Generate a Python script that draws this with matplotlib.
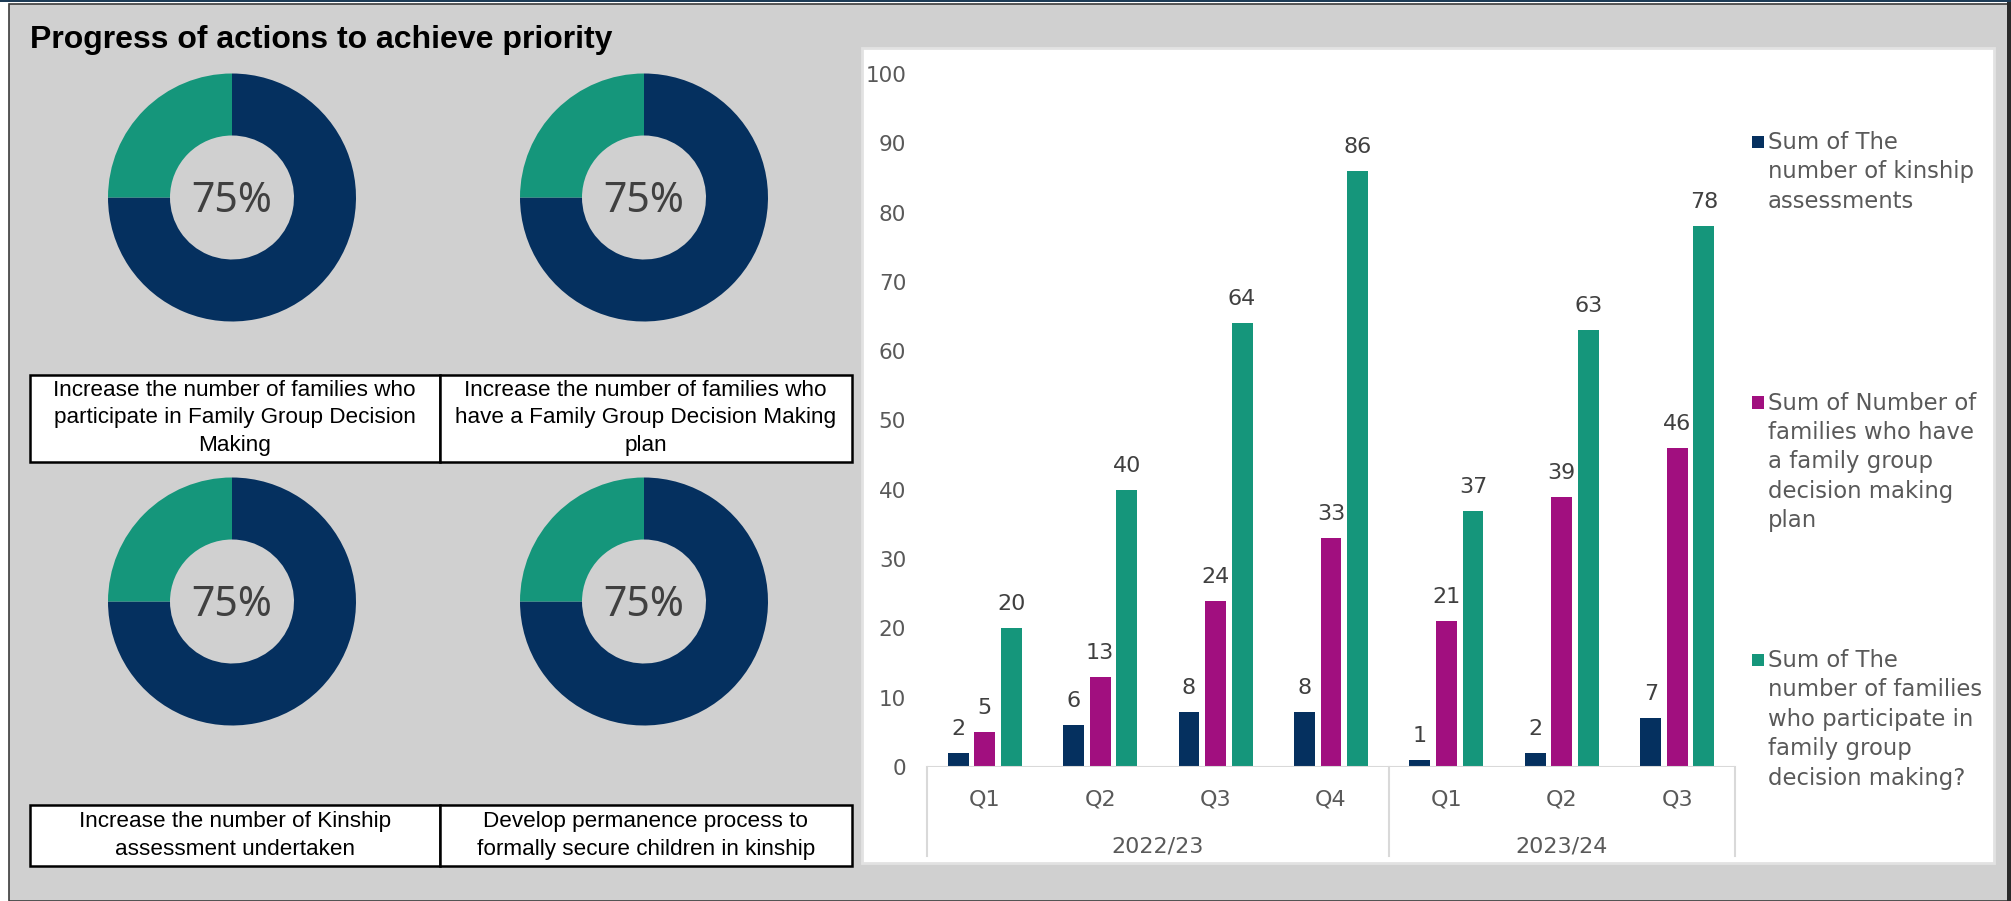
import matplotlib
matplotlib.use("Agg")
import matplotlib.pyplot as plt
from matplotlib.patches import Rectangle
import numpy as np

W, H = 2011, 901

NAVY = "#05305f"
MAGENTA = "#a10f7f"
TEAL = "#15967b"
PANEL_GREY = "#d0d0d0"
TEXT_GREY = "#595959"

# progress donuts
progress = [75, 75, 75, 75]
actions = [
    "Increase the number of families who\nparticipate in Family Group Decision\nMaking",
    "Increase the number of families who\nhave a Family Group Decision Making\nplan",
    "Increase the number of Kinship\nassessment undertaken",
    "Develop permanence process to\nformally secure children in kinship",
]

# quarterly counts
quarters = ["Q1", "Q2", "Q3", "Q4", "Q1", "Q2", "Q3"]
years = ["2022/23", "2023/24"]
year_sizes = [4, 3]
kinship = [2, 6, 8, 8, 1, 2, 7]
fgdm_plan = [5, 13, 24, 33, 21, 39, 46]
fgdm_participate = [20, 40, 64, 86, 37, 63, 78]
series_names = [
    "Sum of The\nnumber of kinship\nassessments",
    "Sum of Number of\nfamilies who have\na family group\ndecision making\nplan",
    "Sum of The\nnumber of families\nwho participate in\nfamily group\ndecision making?",
]

NARROW = ["Liberation Sans Narrow", "Liberation Sans", "DejaVu Sans"]


def fx(px):
    return px / W


def fy(py):
    return 1 - py / H


fig = plt.figure(figsize=(W / 100, H / 100), dpi=100, facecolor="white")

# dashboard background and frame
fig.patches.append(Rectangle((fx(9), 0), fx(2008) - fx(9), fy(4), transform=fig.transFigure,
                             facecolor=PANEL_GREY, edgecolor="#3c3c3c", lw=1.2, zorder=0))
fig.patches.append(Rectangle((fx(2007), 0), fx(4), 1, transform=fig.transFigure,
                             facecolor="#2a2a2a", edgecolor="none", zorder=0))
fig.patches.append(Rectangle((0, fy(2)), 1, fy(0) - fy(2), transform=fig.transFigure,
                             facecolor="#1d3b56", edgecolor="none", zorder=0))

fig.text(fx(30), fy(48), "Progress of actions to achieve priority", fontsize=23,
         fontweight="bold", family=NARROW, color="black", va="baseline", ha="left")

# donuts
centres = [(232, 197.5), (644, 197.5), (232, 601.5), (644, 601.5)]
R = 124
for (cx, cy), pct in zip(centres, progress):
    ax = fig.add_axes([fx(cx - R), fy(cy + R), fx(2 * R), (2 * R) / H])
    ax.set_zorder(3)
    ax.pie([pct, 100 - pct], colors=[NAVY, TEAL], startangle=90, counterclock=False,
           radius=1, wedgeprops=dict(width=0.5, edgecolor="none"))
    ax.set_xlim(-1, 1)
    ax.set_ylim(-1, 1)
    ax.set_aspect("equal")
    ax.axis("off")
    ax.text(0, -0.03, f"{pct}%", ha="center", va="center", fontsize=29.5,
            family=["Noto Sans", "DejaVu Sans"], color="#404040")

# action description boxes
rows = [(374.5, 461.5), (805, 866)]
cols = [(29.5, 440), (440, 851.5)]
i = 0
for top, bot in rows:
    for left, right in cols:
        fig.patches.append(Rectangle((fx(left), fy(bot)), fx(right - left), (bot - top) / H,
                                     transform=fig.transFigure, facecolor="white",
                                     edgecolor="black", lw=1.8, zorder=1))
        fig.text(fx((left + right) / 2), fy((top + bot) / 2), actions[i], ha="center",
                 va="center", fontsize=16.2, family=NARROW, color="black",
                 linespacing=1.38, zorder=2)
        i += 1

# bar chart panel
fig.patches.append(Rectangle((fx(862), fy(863)), fx(1994 - 862), (863 - 48) / H,
                             transform=fig.transFigure, facecolor="white",
                             edgecolor="#e2e2e2", lw=2, zorder=0.5))

y0, y100 = 767, 74
ax = fig.add_axes([fx(927), fy(y0), fx(1735 - 927), (y0 - y100) / H])
ax.set_zorder(3)
ax.set_facecolor("none")
x = np.arange(len(quarters))
bw = 0.18
off = 0.23
series = [kinship, fgdm_plan, fgdm_participate]
colors = [NAVY, MAGENTA, TEAL]
for k, (vals, col) in enumerate(zip(series, colors)):
    xs = x + (k - 1) * off
    ax.bar(xs, vals, width=bw, color=col, zorder=2)
    for xi, v in zip(xs, vals):
        ax.annotate(str(v), (xi, v), xytext=(0, 13), textcoords="offset points",
                    ha="center", va="baseline", fontsize=16, color="#404040")

ax.set_xlim(-0.5, len(quarters) - 0.5)
ax.set_ylim(0, 100)
ax.set_yticks(range(0, 101, 10))
ax.tick_params(axis="y", length=0, pad=15, labelsize=15.5, labelcolor=TEXT_GREY)
ax.set_xticks([])
for s in ax.spines.values():
    s.set_visible(False)
ax.axhline(0, color="#d9d9d9", lw=1.5, zorder=3)

ax_h = y0 - y100
tr = ax.get_xaxis_transform()
for xi, q in zip(x, quarters):
    ax.text(xi, -(800 - y0) / ax_h, q, transform=tr, ha="center", va="center",
            fontsize=16, color=TEXT_GREY)
start = -0.5
edges = [start]
for name, n in zip(years, year_sizes):
    ax.text(start + n / 2, -(846 - y0) / ax_h, name, transform=tr, ha="center",
            va="center", fontsize=16, color=TEXT_GREY)
    start += n
    edges.append(start)
for e in edges:
    ax.plot([e, e], [0, -(856 - y0) / ax_h], transform=tr, color="#d9d9d9", lw=1.5,
            clip_on=False)

# legend
leg_tops = [131, 391.5, 649]
for name, col, ty in zip(series_names, colors, leg_tops):
    fig.patches.append(Rectangle((fx(1752), fy(ty + 17)), fx(12), 12 / H,
                                 transform=fig.transFigure, facecolor=col,
                                 edgecolor="none", zorder=2))
    fig.text(fx(1768), fy(ty), name, ha="left", va="top", fontsize=16.4,
             color=TEXT_GREY, linespacing=1.36, transform=fig.transFigure)

fig.savefig("out.png", dpi=100, facecolor=fig.get_facecolor())
